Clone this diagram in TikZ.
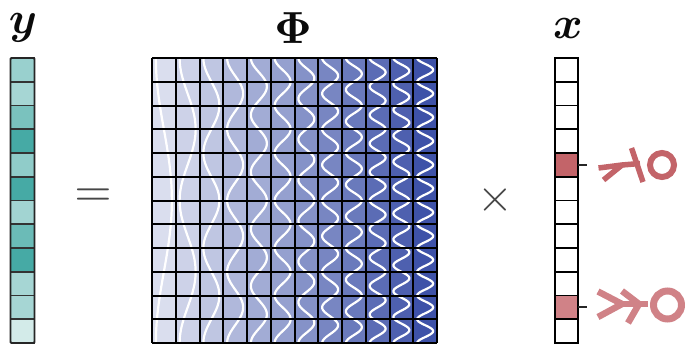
\documentclass[tikz,border=0pt]{standalone}
\usepackage{amsmath,amssymb,bm}
\definecolor{teal0}{RGB}{70,170,165}
\definecolor{blue0}{RGB}{62,82,168}
\definecolor{rA}{RGB}{195,100,105}
\definecolor{rB}{RGB}{208,130,135}
\definecolor{txt}{RGB}{10,10,10}
\definecolor{sym}{RGB}{70,70,70}
\tikzset{
  x=1pt,y=-1pt,
  gridline/.style={draw=black,line width=2pt},
  wave/.style={draw=white,line width=2.2pt,line cap=butt},
  sticks/.style={line width=#1,line cap=butt,line join=miter},
  label/.style={text=txt,inner sep=0pt,scale=4.5},
  tick/.style={draw=black!85,line width=1.8pt},
}
\begin{document}
\begin{tikzpicture}
\useasboundingbox (0,0) rectangle (685,343);
\pgfmathsetmacro{\cs}{23.75}
% y vector
\foreach \v [count=\i from 0] in {55,48,72,100,60,100,50,80,100,48,48,24}{
  \fill[teal0!\v!white] (10.5,58+\i*\cs) rectangle (34.5,58+\i*\cs+\cs);
}
\foreach \i in {0,...,12}{ \draw[gridline,draw=black!80,line width=1.6pt] (10.5,58+\i*\cs) -- (34.5,58+\i*\cs); }
\draw[gridline,rounded corners=1pt,draw=black!85,line width=1.8pt] (10.5,58) rectangle (34.5,343);
% Phi matrix
\foreach \k in {0,...,11}{
  \pgfmathsetmacro{\xl}{152+\k*\cs}
  \pgfmathsetmacro{\tone}{int(19+\k*81/11)}
  \fill[blue0!\tone!white] (\xl,58) rectangle (\xl+\cs,343);
  \pgfmathsetmacro{\xc}{\xl+\cs/2}
  \pgfmathsetmacro{\per}{\k+1}
  \draw[wave,domain=0:1,samples=241,smooth,variable=\t]
    plot ({\xc-8*cos(360*\per*\t)},{58+285*\t});
}
\foreach \i in {0,...,12}{
  \draw[gridline] (152,58+\i*\cs) -- (437,58+\i*\cs);
  \draw[gridline] (152+\i*\cs,58) -- (152+\i*\cs,343);
}
% x vector
\fill[rA] (554.5,153) rectangle (578,176.75);
\fill[rB] (554.5,295.5) rectangle (578,319.25);
\foreach \i in {0,...,12}{ \draw[gridline,line width=1.8pt] (554.5,58+\i*\cs) -- (578,58+\i*\cs); }
\draw[gridline] (554.5,58) rectangle (578,343);
% x ticks
\coordinate (a0) at (578,165); \coordinate (a1) at (587,165);
\coordinate (b0) at (578,307); \coordinate (b1) at (587,307);
\draw[tick] (a0) -- (a1);
\draw[tick] (b0) -- (b1);
% upper glyph
\draw[rA,sticks=5.5pt] (598.5,168) -- (622,165) -- (640,163.5);
\draw[rA,sticks=5.5pt] (622,165) -- (603.5,180);
\draw[rA,sticks=5.5pt] (631.5,148) -- (643,182);
\draw[rA,line width=6pt] (662,165) circle (12);
% lower glyph
\draw[rB,sticks=6.5pt] (598,291.5) -- (622,304) -- (598,317);
\draw[rB,sticks=6.5pt] (622,291) -- (639,304) -- (628,323);
\draw[rB,sticks=6.5pt] (622,304) -- (648,304);
\draw[rB,line width=7pt] (667.5,305) circle (14);
% labels
\node[label] (ly) at (23,28) {$\boldsymbol{y}$};
\node[label] (lphi) at (293,28) {$\boldsymbol{\Phi}$};
\node[label] (lx) at (568,28) {$\boldsymbol{x}$};
\node[text=sym,inner sep=0pt,scale=4.8] (eq) at (93,197.5) {$=$};
\node[text=sym,inner sep=0pt,scale=4.6] (times) at (495,200) {$\times$};
\end{tikzpicture}
\end{document}
